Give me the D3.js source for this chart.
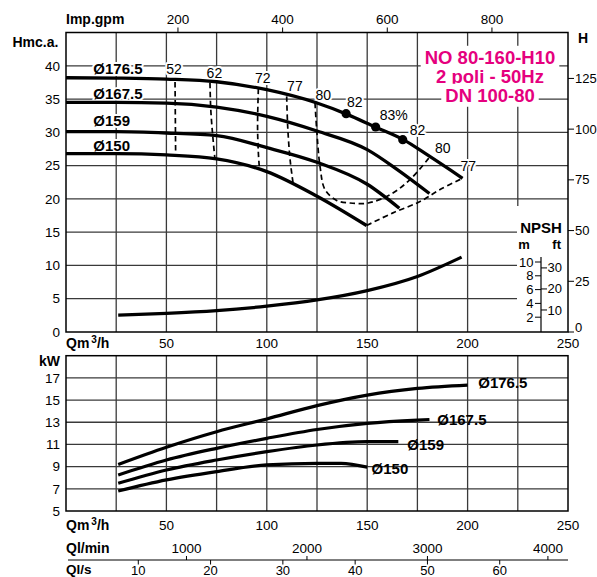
<!DOCTYPE html>
<html>
<head>
<meta charset="utf-8">
<script src="https://cdn.jsdelivr.net/npm/d3@7/dist/d3.min.js"></script>
<style>
  body { margin: 0; background: #fff; }
  svg { display: block; }
  text { font-family: "Liberation Sans", Arial, Helvetica, sans-serif; }
</style>
</head>
<body>
<script>
// ---- Pump NO 80-160-H10 performance data ----
const titleLines = ["NO 80-160-H10", "2 poli - 50Hz", "DN 100-80"];
const diameters = ["Ø176.5", "Ø167.5", "Ø159", "Ø150"];

// Head curves: [Q m3/h, H m]
const head1765 = [[0,38.2],[25,38.15],[50,38.0],[75,37.6],[100,36.4],[125,34.4],[140,32.7],[154,30.8],[168,28.9],[180,26.6],[197.5,23.1]];
const head1675 = [[0,34.5],[25,34.5],[50,34.4],[75,33.8],[100,32.4],[125,30.2],[150,27.4],[165,24.4],[181,20.8]];
const head159  = [[0,30.1],[25,30.1],[50,29.9],[75,29.5],[100,27.7],[125,25.5],[150,22.2],[166,18.6]];
const head150  = [[0,26.8],[25,26.8],[50,26.6],[75,26.0],[100,24.1],[125,20.4],[149.7,16.0]];

// Iso-efficiency lines: [Q, H]
const eff52 = [[54.3,37.55],[54.6,26.76]];
const eff62 = [[71.7,37.45],[72.1,33.43],[73.1,29.4],[74.2,25.9]];
const eff72 = [[95.8,36.55],[95.4,30.9],[95.8,26.9],[96.3,24.65]];
const eff77L = [[109.9,35.4],[110.4,30.9],[111.6,25.9],[113.2,22.1]];
const eff80 = [[124.0,34.44],[124.85,30.42],[126.5,24.89],[129.0,21.39],[134.8,19.77],[141.4,19.38],[150.5,19.38],[161.4,20.63],[171.3,22.89],[181.3,26.36]];
const eff77R = [[149.7,16.0],[162.8,17.9],[176.3,19.6],[186.3,21.4],[197.5,23.1]];

// Best efficiency points on the largest impeller
const bepQ = [139.5, 154.2, 167.7];
const bepH = [32.8, 30.8, 28.9];

// Efficiency labels
const effLabels = ["52","62","72","77","80","82","83%","82","80","77"];
const effLabelQ = [53.8, 73.9, 98.0, 114.0, 128.1, 143.8, 163.2, 175.1, 187.6, 200.3];
const effLabelH = [39.45, 38.9, 38.2, 36.9, 35.65, 34.5, 32.55, 30.4, 27.7, 24.9];

// Diameter labels on the head chart
const headLabelQ = [13.6, 13.6, 13.6, 13.6];
const headLabelH = [39.55, 35.8, 31.7, 28.05];

// NPSH required: [Q, m]
const npsh = [[26,2.3],[50,2.55],[75,2.95],[100,3.6],[125,4.5],[150,5.85],[175,7.9],[197,10.7]];

// Absorbed power: [Q, kW]
const pow1765 = [[26,9.2],[50,10.75],[75,12.15],[100,13.3],[125,14.5],[150,15.45],[175,16.05],[200,16.35]];
const pow1675 = [[26,8.25],[50,9.6],[75,10.65],[100,11.55],[125,12.35],[150,12.9],[175,13.2],[181,13.25]];
const pow159  = [[26,7.5],[50,8.7],[75,9.6],[100,10.35],[125,10.95],[150,11.25],[165.5,11.25]];
const pow150  = [[26,6.8],[50,7.8],[75,8.55],[100,9.15],[125,9.3],[137,9.3],[150,8.95]];
const powLabelQ = [205.3, 184.9, 170.0, 152.2];
const powLabelP = [16.57, 13.27, 11.01, 8.85];

// Axis ticks
const flowTicks = [50, 100, 150, 200, 250];
const flowGrid = [25, 50, 75, 100, 125, 150, 175, 200, 225];
const headTicks = [0, 5, 10, 15, 20, 25, 30, 35, 40];
const powerTicks = [5, 7, 9, 11, 13, 15, 17];
const gpmTicks = [200, 400, 600, 800];
const lminTicks = [1000, 2000, 3000, 4000];
const lsTicks = [10, 20, 30, 40, 50, 60];
const ftTicks = [0, 25, 50, 75, 100, 125];
const npshMTicks = [2, 4, 6, 8, 10];
const npshFtTicks = [10, 20, 30];

// ---- Layout ----
const W = 597, H = 577;
const L = 66, R = 568;
const topT = 32.5, topB = 332;
const botT = 355.7, botB = 511;
const MAGENTA = "#e5007e";
const GRID = "#3a3a3a";

const svg = d3.select("body").append("svg").attr("width", W).attr("height", H);

// Scales
const x = d3.scaleLinear().domain([0, 250]).range([L, R]);
const yH = d3.scaleLinear().domain([0, 45]).range([topB, topT]);
const yP = d3.scaleLinear().domain([5, 19]).range([botB, botT]);
const yN = d3.scaleLinear().domain([0, 10]).range([331, 262]);
const gpm = d3.scaleLinear().domain([0, 1000]).range([73.3, 596.6]);
const lmin = v => x(v * 60 / 1000);
const ls = v => x(v * 3.6);
const ftToM = v => v * 0.3048;

// ---- Head chart grid ----
const gTop = svg.append("g");
gTop.selectAll(".vg").data(flowGrid).join("line")
  .attr("x1", d => x(d)).attr("x2", d => x(d))
  .attr("y1", topT).attr("y2", topB)
  .attr("stroke", GRID).attr("stroke-width", 1.3);
gTop.selectAll(".hg").data(headTicks.filter(d => d > 0)).join("line")
  .attr("x1", L).attr("x2", R)
  .attr("y1", d => yH(d)).attr("y2", d => yH(d))
  .attr("stroke", GRID).attr("stroke-width", 1.3);

// NPSH inset panel clears the grid
gTop.append("rect").attr("x", 517).attr("y", 206).attr("width", R - 517).attr("height", topB - 206)
  .attr("fill", "#fff");

// Title block with white backing
const title = gTop.append("g");
titleLines.forEach((t, i) => {
  const g = title.append("g");
  const tx = g.append("text").attr("x", 490).attr("y", 57.3 + i * 19).attr("dy", "0.35em")
    .attr("text-anchor", "middle").attr("font-size", 18.5).attr("font-weight", "bold")
    .attr("fill", MAGENTA).text(t);
  const bb = tx.node().getBBox();
  g.insert("rect", "text").attr("x", bb.x - 4).attr("y", bb.y - 1).attr("width", bb.width + 8)
    .attr("height", bb.height + 2).attr("fill", "#fff");
});

// Labels with white halo (under the curves)
const halo = sel => sel.attr("stroke", "#fff").attr("stroke-width", 4)
  .attr("stroke-linejoin", "round").attr("paint-order", "stroke");

gTop.selectAll(".effl").data(effLabels).join("text")
  .attr("x", (d, i) => x(effLabelQ[i])).attr("y", (d, i) => yH(effLabelH[i]))
  .attr("dy", "0.35em").attr("text-anchor", "middle").attr("font-size", 14)
  .attr("fill", "#000").call(halo).text(d => d);

gTop.selectAll(".diaL").data(diameters).join("text")
  .attr("x", (d, i) => x(headLabelQ[i])).attr("y", (d, i) => yH(headLabelH[i]))
  .attr("dy", "0.36em").attr("font-size", 15).attr("font-weight", "bold")
  .attr("fill", "#000").call(halo).text(d => d);

// Iso-efficiency dashed lines
const effLine = d3.line().x(d => x(d[0])).y(d => yH(d[1])).curve(d3.curveCatmullRom.alpha(0.5));
[eff52, eff62, eff72, eff77L, eff80, eff77R].forEach(s => {
  gTop.append("path").attr("d", effLine(s)).attr("fill", "none")
    .attr("stroke", "#000").attr("stroke-width", 1.7).attr("stroke-dasharray", "5.5,3.5");
});

// Head curves
const headLine = d3.line().x(d => x(d[0])).y(d => yH(d[1])).curve(d3.curveMonotoneX);
[head1765, head1675, head159, head150].forEach(s => {
  gTop.append("path").attr("d", headLine(s)).attr("fill", "none")
    .attr("stroke", "#000").attr("stroke-width", 3.3);
});

// Best efficiency points
gTop.selectAll(".bep").data(bepQ).join("circle")
  .attr("cx", d => x(d)).attr("cy", (d, i) => yH(bepH[i])).attr("r", 4.6).attr("fill", "#000");

// NPSH curve
const npshLine = d3.line().x(d => x(d[0])).y(d => yN(d[1])).curve(d3.curveMonotoneX);
gTop.append("path").attr("d", npshLine(npsh)).attr("fill", "none")
  .attr("stroke", "#000").attr("stroke-width", 3.2);

// NPSH inset axis
const nAx = 541;
gTop.append("line").attr("x1", nAx).attr("x2", nAx).attr("y1", 257).attr("y2", topB)
  .attr("stroke", "#000").attr("stroke-width", 1.2);
gTop.selectAll(".nmt").data(npshMTicks).join("line")
  .attr("x1", nAx - 6).attr("x2", nAx).attr("y1", d => yN(d)).attr("y2", d => yN(d))
  .attr("stroke", "#000").attr("stroke-width", 1);
gTop.selectAll(".nml").data(npshMTicks).join("text")
  .attr("x", nAx - 7.5).attr("y", d => yN(d)).attr("dy", "0.35em")
  .attr("text-anchor", "end").attr("font-size", 13).text(d => d);
gTop.selectAll(".nft").data(npshFtTicks).join("line")
  .attr("x1", nAx).attr("x2", nAx + 6).attr("y1", d => yN(ftToM(d))).attr("y2", d => yN(ftToM(d)))
  .attr("stroke", "#000").attr("stroke-width", 1);
gTop.selectAll(".nfl").data(npshFtTicks).join("text")
  .attr("x", nAx + 6.5).attr("y", d => yN(ftToM(d))).attr("dy", "0.35em")
  .attr("font-size", 13).text(d => d);
gTop.append("text").attr("x", 541).attr("y", 227.3).attr("dy", "0.36em").attr("text-anchor", "middle")
  .attr("font-size", 15).attr("font-weight", "bold").text("NPSH");
gTop.append("text").attr("x", 524).attr("y", 244.3).attr("dy", "0.36em").attr("text-anchor", "middle")
  .attr("font-size", 13).attr("font-weight", "bold").text("m");
gTop.append("text").attr("x", 556.7).attr("y", 244.3).attr("dy", "0.36em").attr("text-anchor", "middle")
  .attr("font-size", 13).attr("font-weight", "bold").text("ft");

// Frame
gTop.append("rect").attr("x", L).attr("y", topT).attr("width", R - L).attr("height", topB - topT)
  .attr("fill", "none").attr("stroke", "#000").attr("stroke-width", 1.5);

// Left axis (m)
gTop.selectAll(".hl").data(headTicks).join("text")
  .attr("x", 60).attr("y", d => yH(d)).attr("dy", "0.35em").attr("text-anchor", "end")
  .attr("font-size", 13.5).text(d => d);
gTop.append("text").attr("x", 12.5).attr("y", 41.7).attr("dy", "0.36em")
  .attr("font-size", 14).attr("font-weight", "bold").text("Hmc.a.");

// Right axis (ft)
gTop.selectAll(".ftt").data(ftTicks).join("line")
  .attr("x1", R).attr("x2", R + 6).attr("y1", d => yH(ftToM(d))).attr("y2", d => yH(ftToM(d)))
  .attr("stroke", "#000").attr("stroke-width", 1);
gTop.selectAll(".ftl").data(ftTicks).join("text")
  .attr("x", R + 7).attr("y", d => yH(ftToM(d)) - (d === 0 ? 5 : 0)).attr("dy", "0.35em")
  .attr("font-size", 13).text(d => d);
gTop.append("text").attr("x", 578).attr("y", 38).attr("dy", "0.36em")
  .attr("font-size", 14).attr("font-weight", "bold").text("H");

// Top axis (Imp. gpm)
gTop.selectAll(".gt").data(gpmTicks).join("line")
  .attr("x1", d => gpm(d)).attr("x2", d => gpm(d)).attr("y1", topT - 5).attr("y2", topT)
  .attr("stroke", "#000").attr("stroke-width", 1);
gTop.selectAll(".gl").data(gpmTicks).join("text")
  .attr("x", d => gpm(d)).attr("y", 19).attr("dy", "0.35em").attr("text-anchor", "middle")
  .attr("font-size", 13.5).text(d => d);
gTop.append("text").attr("x", L).attr("y", 19).attr("dy", "0.36em")
  .attr("font-size", 14).attr("font-weight", "bold").text("Imp.gpm");

// Flow axis under each chart
function flowAxis(g, baseline) {
  g.selectAll(null).data(flowTicks).join("text")
    .attr("x", d => x(d)).attr("y", baseline).attr("text-anchor", "middle")
    .attr("font-size", 13.5).text(d => d);
  const t = g.append("text").attr("x", L).attr("y", baseline)
    .attr("font-size", 14).attr("font-weight", "bold");
  t.append("tspan").text("Qm");
  t.append("tspan").attr("dx", 2).attr("font-size", 10).attr("dy", -5).text("3");
  t.append("tspan").attr("dy", 5).text("/h");
}
flowAxis(gTop, 348);

// ---- Power chart ----
const gBot = svg.append("g");
gBot.selectAll(".vg").data(flowGrid).join("line")
  .attr("x1", d => x(d)).attr("x2", d => x(d)).attr("y1", botT).attr("y2", botB)
  .attr("stroke", GRID).attr("stroke-width", 1.3);
gBot.selectAll(".hg").data(powerTicks.filter(d => d > 5)).join("line")
  .attr("x1", L).attr("x2", R).attr("y1", d => yP(d)).attr("y2", d => yP(d))
  .attr("stroke", GRID).attr("stroke-width", 1.3);

const powLine = d3.line().x(d => x(d[0])).y(d => yP(d[1])).curve(d3.curveMonotoneX);
[pow1765, pow1675, pow159, pow150].forEach(s => {
  gBot.append("path").attr("d", powLine(s)).attr("fill", "none")
    .attr("stroke", "#000").attr("stroke-width", 3.2);
});
gBot.selectAll(".pl").data(diameters).join("text")
  .attr("x", (d, i) => x(powLabelQ[i])).attr("y", (d, i) => yP(powLabelP[i])).attr("dy", "0.36em")
  .attr("font-size", 15).attr("font-weight", "bold").text(d => d);

gBot.append("rect").attr("x", L).attr("y", botT).attr("width", R - L).attr("height", botB - botT)
  .attr("fill", "none").attr("stroke", "#000").attr("stroke-width", 1.5);

gBot.selectAll(".kl").data(powerTicks).join("text")
  .attr("x", 60).attr("y", d => yP(d)).attr("dy", "0.35em").attr("text-anchor", "end")
  .attr("font-size", 13.5).text(d => d);
gBot.append("text").attr("x", 60).attr("y", 360.7).attr("dy", "0.36em").attr("text-anchor", "end")
  .attr("font-size", 14).attr("font-weight", "bold").text("kW");

flowAxis(gBot, 530);

// Secondary flow scales: l/min and l/s
const sY = 560;
gBot.append("line").attr("x1", 68).attr("x2", R).attr("y1", sY).attr("y2", sY)
  .attr("stroke", "#000").attr("stroke-width", 1.2);
gBot.selectAll(".lmt").data(lminTicks).join("line")
  .attr("x1", d => lmin(d)).attr("x2", d => lmin(d)).attr("y1", sY - 4).attr("y2", sY)
  .attr("stroke", "#000").attr("stroke-width", 1);
gBot.selectAll(".lml").data(lminTicks).join("text")
  .attr("x", d => lmin(d)).attr("y", 553).attr("text-anchor", "middle")
  .attr("font-size", 13.5).text(d => d);
gBot.append("text").attr("x", L).attr("y", 553).attr("font-size", 14).attr("font-weight", "bold").text("Ql/min");
gBot.selectAll(".lst").data(lsTicks).join("line")
  .attr("x1", d => ls(d)).attr("x2", d => ls(d)).attr("y1", sY).attr("y2", sY + 4.5)
  .attr("stroke", "#000").attr("stroke-width", 1);
gBot.selectAll(".lsl").data(lsTicks).join("text")
  .attr("x", d => ls(d)).attr("y", 575).attr("text-anchor", "middle")
  .attr("font-size", 13).text(d => d);
gBot.append("text").attr("x", L).attr("y", 574).attr("font-size", 13.5).attr("font-weight", "bold").text("Ql/s");
</script>
</body>
</html>
